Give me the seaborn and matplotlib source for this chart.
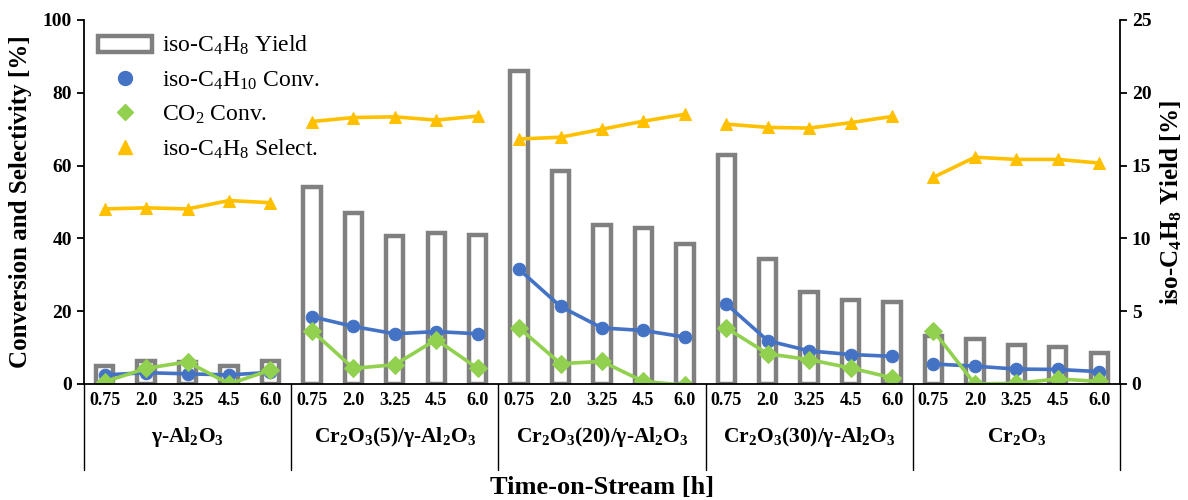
import numpy as np
import pandas as pd
import matplotlib
matplotlib.use("Agg")
import matplotlib.pyplot as plt
from matplotlib.patches import Patch
from matplotlib.lines import Line2D
import seaborn as sns

# data
catalysts = ["γ-Al$\\mathregular{_2}$O$\\mathregular{_3}$",
             "Cr$\\mathregular{_2}$O$\\mathregular{_3}$(5)/γ-Al$\\mathregular{_2}$O$\\mathregular{_3}$",
             "Cr$\\mathregular{_2}$O$\\mathregular{_3}$(20)/γ-Al$\\mathregular{_2}$O$\\mathregular{_3}$",
             "Cr$\\mathregular{_2}$O$\\mathregular{_3}$(30)/γ-Al$\\mathregular{_2}$O$\\mathregular{_3}$",
             "Cr$\\mathregular{_2}$O$\\mathregular{_3}$"]
times = ["0.75", "2.0", "3.25", "4.5", "6.0"]

c4h8_yield = [1.25, 1.55, 1.5, 1.25, 1.55,
              13.5, 11.75, 10.15, 10.4, 10.25,
              21.5, 14.6, 10.95, 10.7, 9.6,
              15.75, 8.6, 6.3, 5.75, 5.6,
              3.3, 3.1, 2.65, 2.55, 2.15]
c4h10_conv = [2.5, 3.1, 2.8, 2.5, 3.2,
              18.5, 15.8, 13.8, 14.4, 13.8,
              31.5, 21.3, 15.4, 14.7, 12.9,
              22.0, 11.9, 9.1, 8.1, 7.6,
              5.5, 4.9, 4.1, 4.0, 3.4]
co2_conv = [0.6, 4.3, 6.1, 0.0, 3.8,
            14.6, 4.3, 5.3, 12.2, 4.3,
            15.4, 5.6, 6.2, 0.7, -0.3,
            15.4, 8.3, 6.7, 4.4, 1.7,
            14.6, 0.0, 0.2, 1.4, 0.7]
c4h8_select = [48.1, 48.4, 48.1, 50.4, 49.8,
               72.1, 73.2, 73.4, 72.5, 73.6,
               67.3, 67.8, 70.0, 72.2, 74.1,
               71.4, 70.5, 70.3, 71.8, 73.5,
               56.8, 62.3, 61.7, 61.7, 60.7]

df = pd.DataFrame({
    "pos": np.arange(len(c4h8_yield)),
    "catalyst": np.repeat(np.arange(len(catalysts)), len(times)),
    "time": times * len(catalysts),
    "yield": c4h8_yield,
    "conv": c4h10_conv,
    "co2": co2_conv,
    "select": c4h8_select,
})

sns.set_style("white")
plt.rcParams["font.family"] = ["Liberation Serif", "DejaVu Serif"]
plt.rcParams["mathtext.fontset"] = "custom"
plt.rcParams["mathtext.rm"] = "Liberation Serif"
plt.rcParams["mathtext.it"] = "Liberation Serif:italic"
plt.rcParams["mathtext.bf"] = "Liberation Serif:bold"
for k in ["text.color", "axes.labelcolor", "xtick.color", "ytick.color", "axes.edgecolor"]:
    plt.rcParams[k] = "black"

blue = "#4472C4"
green = "#92D050"
yellow = "#FFC000"
gray = "#808080"

fig = plt.figure(figsize=(11.88, 5.0), dpi=100)
ax = fig.add_axes([0.0707, 0.232, 0.872, 0.728])
ax2 = ax.twinx()

# bars on the right axis
sns.barplot(data=df, x="pos", y="yield", ax=ax2, color="white", edgecolor=gray,
            linewidth=3.2, width=0.42, errorbar=None, saturation=1)
ax2.set_ylim(0, 25)
ax2.set_yticks([0, 5, 10, 15, 20, 25])

# lines on the left axis, one segment per catalyst
line_kw = dict(units="catalyst", estimator=None, linewidth=2.6, markersize=9, ax=ax, legend=False)
sns.lineplot(data=df, x="pos", y="conv", color=blue, marker="o", markeredgecolor=blue, **line_kw)
sns.lineplot(data=df, x="pos", y="co2", color=green, marker="D", markeredgecolor=green, **line_kw)
sns.lineplot(data=df, x="pos", y="select", color=yellow, marker="^", markeredgecolor=yellow, **line_kw)
ax.set_ylim(0, 100)
ax.set_yticks([0, 20, 40, 60, 80, 100])
ax.set_xlim(-0.5, len(df) - 0.5)

ax.set_zorder(ax2.get_zorder() + 1)
ax.patch.set_visible(False)

# axes styling
for a in (ax, ax2):
    a.spines["top"].set_visible(False)
    for s in a.spines.values():
        s.set_color("black")
        s.set_linewidth(1.3)
ax.spines["right"].set_visible(False)
ax2.spines["left"].set_visible(False)
ax2.spines["bottom"].set_visible(False)

ax.set_xticks(df["pos"])
ax.set_xticklabels(df["time"], fontsize=13, fontweight="bold")
ax.tick_params(axis="x", length=0, pad=6)
ax.tick_params(axis="y", direction="out", length=5, width=1.3, labelsize=14, left=True)
ax2.tick_params(axis="y", direction="out", length=5, width=1.3, labelsize=14, right=True)
for lab in ax.get_yticklabels() + ax2.get_yticklabels():
    lab.set_fontweight("bold")
ax2.set_xlabel("")
ax.set_xlabel("")

ax.set_ylabel("Conversion and Selectivity [%]", fontsize=18, fontweight="bold", labelpad=8)
ax2.set_ylabel("iso-C$\\mathregular{_4}$H$\\mathregular{_8}$ Yield [%]", fontsize=18,
               fontweight="bold", labelpad=5)

# group separators and group names
n = len(times)
trans = ax.get_xaxis_transform()
for i in range(len(catalysts) + 1):
    ax.plot([i * n - 0.5, i * n - 0.5], [0, -0.236], color="black", lw=1.0,
            transform=trans, clip_on=False)
for i, name in enumerate(catalysts):
    ax.text(i * n + (n - 1) / 2, -0.145, name, transform=trans, ha="center", va="center",
            fontsize=15.5, fontweight="bold")

fig.text(0.507, 0.025, "Time-on-Stream [h]", ha="center", va="center",
         fontsize=19, fontweight="bold")

handles = [
    Patch(facecolor="white", edgecolor=gray, linewidth=3.2),
    Line2D([], [], color=blue, marker="o", linestyle="none", markersize=10),
    Line2D([], [], color=green, marker="D", linestyle="none", markersize=8),
    Line2D([], [], color=yellow, marker="^", linestyle="none", markersize=10),
]
labels = ["iso-C$\\mathregular{_4}$H$\\mathregular{_8}$ Yield",
          "iso-C$\\mathregular{_4}$H$\\mathregular{_{10}}$ Conv.",
          "CO$\\mathregular{_2}$ Conv.",
          "iso-C$\\mathregular{_4}$H$\\mathregular{_8}$ Select."]
ax.legend(handles, labels, loc="upper left", bbox_to_anchor=(0.0, 1.0), frameon=False,
          fontsize=17, handlelength=2.3, handletextpad=0.4, labelspacing=0.5,
          borderaxespad=0.2)

fig.savefig("out.png", dpi=100)
